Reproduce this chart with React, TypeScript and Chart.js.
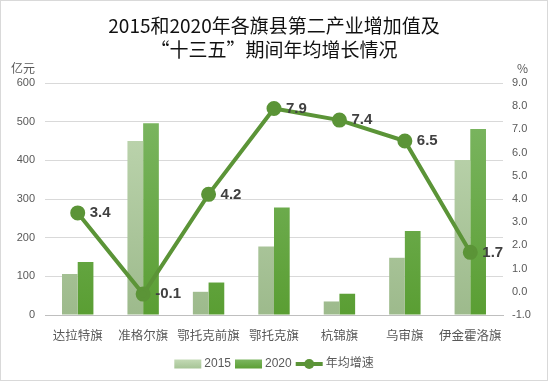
import React, { useEffect, useRef } from "react";
import { Chart, registerables } from "chart.js";

Chart.register(...registerables);

const categories = ["达拉特旗", "准格尔旗", "鄂托克前旗", "鄂托克旗", "杭锦旗", "乌审旗", "伊金霍洛旗"];
const values2015 = [106, 450, 60, 177, 35, 148, 401];
const values2020 = [137, 496, 84, 278, 55, 217, 481];
const growthRate = [3.4, -0.1, 4.2, 7.9, 7.4, 6.5, 1.7];
const titleLines = ["2015和2020年各旗县第二产业增加值及", "“十三五”期间年均增长情况"];
const seriesNames = ["2015", "2020", "年均增速"];
const leftUnit = "亿元";
const rightUnit = "%";

const LINE_COLOR = "#5b9437";
const GRAY = "#595959";

function grad(ctx: any, top: string, bottom: string) {
  const chart = ctx.chart;
  const area = chart.chartArea;
  if (!area) return top;
  const g = chart.ctx.createLinearGradient(0, area.top, 0, area.bottom);
  g.addColorStop(0, top);
  g.addColorStop(1, bottom);
  return g;
}

const decorPlugin = {
  id: "decor",
  beforeDraw(chart: any) {
    const c = chart.ctx;
    c.save();
    c.fillStyle = "#ffffff";
    c.fillRect(0, 0, chart.width, chart.height);
    c.restore();
  },
  afterDraw(chart: any) {
    const c = chart.ctx;
    const area = chart.chartArea;
    c.save();
    // border
    c.strokeStyle = "#d9d9d9";
    c.lineWidth = 1;
    c.strokeRect(0.5, 0.5, chart.width - 1, chart.height - 1);
    // title
    c.fillStyle = "#111111";
    c.font = "19px 'Noto Sans CJK SC', sans-serif";
    c.textAlign = "center";
    c.textBaseline = "middle";
    c.fillText(titleLines[0], chart.width / 2, 26);
    c.fillText(titleLines[1], chart.width / 2, 50);
    // units
    c.fillStyle = GRAY;
    c.font = "12px 'Noto Sans CJK SC', sans-serif";
    c.textAlign = "left";
    c.fillText(leftUnit, 11, area.top - 15);
    c.fillText(rightUnit, 517, area.top - 15);
    // data labels
    const meta = chart.getDatasetMeta(2);
    c.fillStyle = "#404040";
    c.font = "bold 15px 'Liberation Sans', Arial, sans-serif";
    c.textAlign = "left";
    c.textBaseline = "middle";
    meta.data.forEach((pt: any, i: number) => {
      c.fillText(growthRate[i].toFixed(1), pt.x + 12, pt.y);
    });
    // legend
    const y = 364;
    c.font = "12px 'Liberation Sans', 'Noto Sans CJK SC', sans-serif";
    const boxW = 27;
    const gapT = 3;
    const gapI = 4;
    const widths = seriesNames.map((n) => c.measureText(n).width);
    const total = widths.reduce((a, b) => a + b, 0) + 3 * (boxW + gapT) + 2 * gapI;
    let x = chart.width / 2 - total / 2;
    const fills = [["#c3dab5", "#a6c496"], ["#7cb660", "#5c9f35"]];
    for (let i = 0; i < 3; i++) {
      if (i < 2) {
        const g = c.createLinearGradient(0, y - 4.5, 0, y + 4.5);
        g.addColorStop(0, fills[i][0]);
        g.addColorStop(1, fills[i][1]);
        c.fillStyle = g;
        c.fillRect(x, y - 4.5, boxW, 9);
      } else {
        c.strokeStyle = LINE_COLOR;
        c.lineWidth = 4;
        c.beginPath();
        c.moveTo(x, y);
        c.lineTo(x + boxW, y);
        c.stroke();
        c.fillStyle = LINE_COLOR;
        c.beginPath();
        c.arc(x + boxW / 2, y, 5, 0, Math.PI * 2);
        c.fill();
      }
      x += boxW + gapT;
      c.fillStyle = GRAY;
      c.textAlign = "left";
      c.fillText(seriesNames[i], x, y);
      x += widths[i] + gapI;
    }
    c.restore();
  },
};

export default function App() {
  const ref = useRef<HTMLCanvasElement | null>(null);
  useEffect(() => {
    document.body.style.margin = "0";
    const canvas = ref.current;
    if (!canvas) return;
    const chart = new Chart(canvas, {
      data: {
        labels: categories,
        datasets: [
          {
            type: "bar",
            label: seriesNames[0],
            data: values2015,
            yAxisID: "y",
            backgroundColor: (ctx: any) => grad(ctx, "#c3dab5", "#9dba8c"),
            barPercentage: 1,
            categoryPercentage: 0.48,
            order: 2,
          },
          {
            type: "bar",
            label: seriesNames[1],
            data: values2020,
            yAxisID: "y",
            backgroundColor: (ctx: any) => grad(ctx, "#80b968", "#5a9e33"),
            barPercentage: 1,
            categoryPercentage: 0.48,
            order: 2,
          },
          {
            type: "line",
            label: seriesNames[2],
            data: growthRate,
            yAxisID: "y1",
            borderColor: LINE_COLOR,
            backgroundColor: LINE_COLOR,
            borderWidth: 4,
            pointRadius: 5.5,
            pointBackgroundColor: LINE_COLOR,
            pointBorderColor: LINE_COLOR,
            tension: 0,
            order: 1,
          },
        ],
      } as any,
      options: {
        responsive: false,
        animation: false,
        layout: { padding: { top: 83, left: 0, right: 0, bottom: 0 } },
        plugins: {
          legend: { display: false },
          title: { display: false },
          tooltip: { enabled: false },
        },
        scales: {
          x: {
            grid: { display: false },
            border: { display: true, color: "#bfbfbf", width: 1 },
            ticks: {
              color: GRAY,
              font: { size: 12.5, family: "'Noto Sans CJK SC', sans-serif" },
              padding: 5,
              maxRotation: 0,
              autoSkip: false,
            },
            afterFit(scale: any) {
              scale.height = 66;
            },
          },
          y: {
            position: "left",
            min: 0,
            max: 600,
            ticks: {
              stepSize: 100,
              color: GRAY,
              font: { size: 11, family: "'Liberation Sans', Arial, sans-serif" },
              padding: 10,
            },
            grid: { color: "#d9d9d9", drawTicks: false },
            border: { display: false },
            afterFit(scale: any) {
              scale.width = 45;
            },
          },
          y1: {
            position: "right",
            min: -1,
            max: 9,
            ticks: {
              stepSize: 1,
              color: GRAY,
              font: { size: 11, family: "'Liberation Sans', Arial, sans-serif" },
              padding: 9,
              callback: (v: any) => Number(v).toFixed(1),
            },
            grid: { display: false, drawTicks: false },
            border: { display: false },
            afterFit(scale: any) {
              scale.width = 45;
            },
          },
        },
      } as any,
      plugins: [decorPlugin],
    });
    return () => chart.destroy();
  }, []);
  return (
    <div style={{ width: 548, height: 381 }}>
      <canvas ref={ref} width={548} height={381} />
    </div>
  );
}
